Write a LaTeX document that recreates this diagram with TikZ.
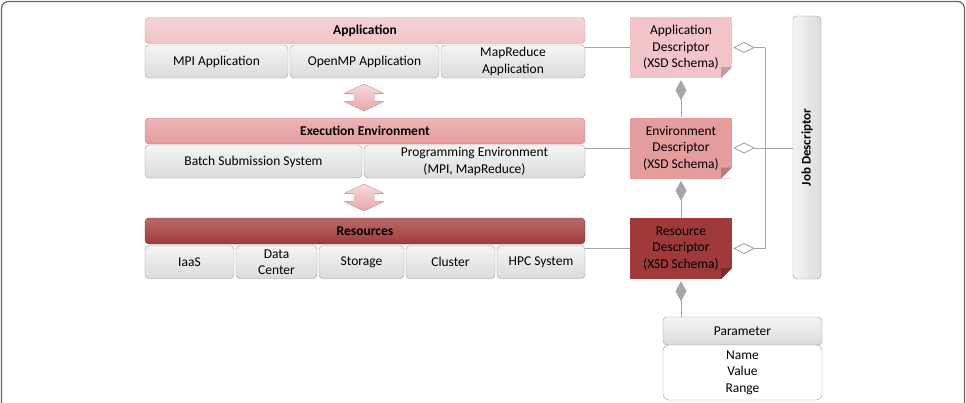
\documentclass[tikz,border=0pt]{standalone}
\usepackage{fontspec}
\setmainfont{Carlito}
\usetikzlibrary{calc,arrows.meta}

\definecolor{appcol}{HTML}{F2C3C7}
\definecolor{envcol}{HTML}{E59C9D}
\definecolor{rescol}{HTML}{A03A3A}
\definecolor{linecol}{HTML}{A6A6A6}
\definecolor{boxline}{HTML}{9A9A9A}

\tikzset{
  every node/.style={font=\fontsize{13.5}{16.5}\selectfont, align=center, inner sep=1pt},
  hdr/.style={draw=#1!80!black, rounded corners=4pt, top color=#1!75, bottom color=#1,
    minimum width=440pt, minimum height=26pt, font=\fontsize{13.5}{16.5}\selectfont\bfseries},
  subbox/.style={draw=boxline, rounded corners=4pt, top color=gray!8, bottom color=gray!28,
    minimum height=33pt},
  desc/.style 2 args={fill=#1, minimum width=102pt, minimum height=61pt,
    path picture={
      \fill[white] ([xshift=-11pt]path picture bounding box.south east)
        -- ([yshift=11pt]path picture bounding box.south east)
        -- (path picture bounding box.south east) -- cycle;
      \fill[#2] ([xshift=-11pt]path picture bounding box.south east)
        -- ([yshift=11pt]path picture bounding box.south east)
        -- ([xshift=-11pt,yshift=11pt]path picture bounding box.south east) -- cycle;}},
  link/.style={draw=linecol, line width=0.9pt},
  comp/.style={link, -{Diamond[length=20pt,width=11pt,fill=linecol]}, shorten >=2pt},
  aggr/.style={link, -{Diamond[open,length=22pt,width=11pt,fill=white]}, shorten >=1pt},
  dblarrow/.style={draw=appcol!90!black, top color=appcol!60, bottom color=envcol!90}
}

\begin{document}
\begin{tikzpicture}[x=1pt, y=-1pt]
  \useasboundingbox (0,0) rectangle (966,402);
  \clip (0,0) rectangle (966,402);
  \draw[gray!80!black, line width=1.2pt, rounded corners=7pt] (1.5,1.5) rectangle (964.5,440);

  % layer headers
  \node[hdr=appcol] (app) at (365,30.5) {Application};
  \node[hdr=envcol] (exec) at (365,131) {Execution Environment};
  \node[hdr=rescol] (res) at (365,231) {Resources};

  % application layer
  \node[subbox, minimum width=143pt] (mpi) at (216.5,61.5) {MPI Application};
  \node[subbox, minimum width=149pt] (openmp) at (364.5,61.5) {OpenMP Application};
  \node[subbox, minimum width=144pt] (mapred) at (513,61.5) {MapReduce\\Application};

  % execution environment layer
  \node[subbox, minimum width=217pt] (batch) at (253.5,161.5) {Batch Submission System};
  \node[subbox, minimum width=221pt] (progenv) at (474.5,161.5) {Programming Environment\\(MPI, MapReduce)};

  % resource layer
  \node[subbox, minimum width=89pt] (iaas) at (189.5,262) {IaaS};
  \node[subbox, minimum width=81pt] (dc) at (276.5,262) {Data\\Center};
  \node[subbox, minimum width=85pt] (storage) at (361.5,262) {Storage};
  \node[subbox, minimum width=89pt] (cluster) at (450.5,262) {Cluster};
  \node[subbox, minimum width=88pt] (hpc) at (541,262) {HPC System};

  % arrows between layers
  \foreach \y in {97.5,197.5}
    \filldraw[dblarrow] (364,\y-13.5) -- (384,\y-4) -- (374,\y-4) -- (374,\y+4)
      -- (384,\y+4) -- (364,\y+13.5) -- (344,\y+4) -- (354,\y+4) -- (354,\y-4)
      -- (344,\y-4) -- cycle;

  % descriptors
  \node[desc={appcol}{appcol!80!black}] (appdesc) at (681,47.5) {Application\\Descriptor\\(XSD Schema)};
  \node[desc={envcol}{envcol!80!black}] (envdesc) at (681,148) {Environment\\Descriptor\\(XSD Schema)};
  \node[desc={rescol}{rescol!75!black}] (resdesc) at (681,248.5) {Resource\\Descriptor\\(XSD Schema)};

  \node[draw=boxline, rounded corners=4pt, left color=gray!8, right color=gray!28,
    rotate=90, minimum width=263pt, minimum height=28pt,
    font=\fontsize{13}{16}\selectfont\bfseries] (job) at (807,147.5) {Job Descriptor};

  % parameter
  \node[subbox, minimum width=159pt, minimum height=28pt] (param) at (742.5,331) {Parameter};
  \node[draw=boxline, rounded corners=6pt, fill=white, minimum width=159pt,
    minimum height=55pt] (parbody) at (742.5,372.5) {Name\\Value\\Range};

  % connectors
  \draw[link] (mapred.east |- appdesc.west) -- (appdesc.west);
  \draw[link] (progenv.east |- envdesc.west) -- (envdesc.west);
  \draw[link] (hpc.east |- resdesc.west) -- (resdesc.west);

  \draw[comp] (envdesc.north) -- (appdesc.south);
  \draw[comp] (resdesc.north) -- (envdesc.south);
  \draw[comp] (param.north -| resdesc.south) -- (resdesc.south);

  \coordinate (jA) at ($(appdesc.east)+(33,0)$);
  \coordinate (jE) at ($(envdesc.east)+(33,0)$);
  \coordinate (jR) at ($(resdesc.east)+(33,0)$);
  \draw[link] (jA) -- (jR);
  \draw[link] (jE) -- (jE -| job.north);
  \draw[aggr] (jA) -- (appdesc.east);
  \draw[aggr] (jE) -- (envdesc.east);
  \draw[aggr] (jR) -- (resdesc.east);
\end{tikzpicture}
\end{document}
